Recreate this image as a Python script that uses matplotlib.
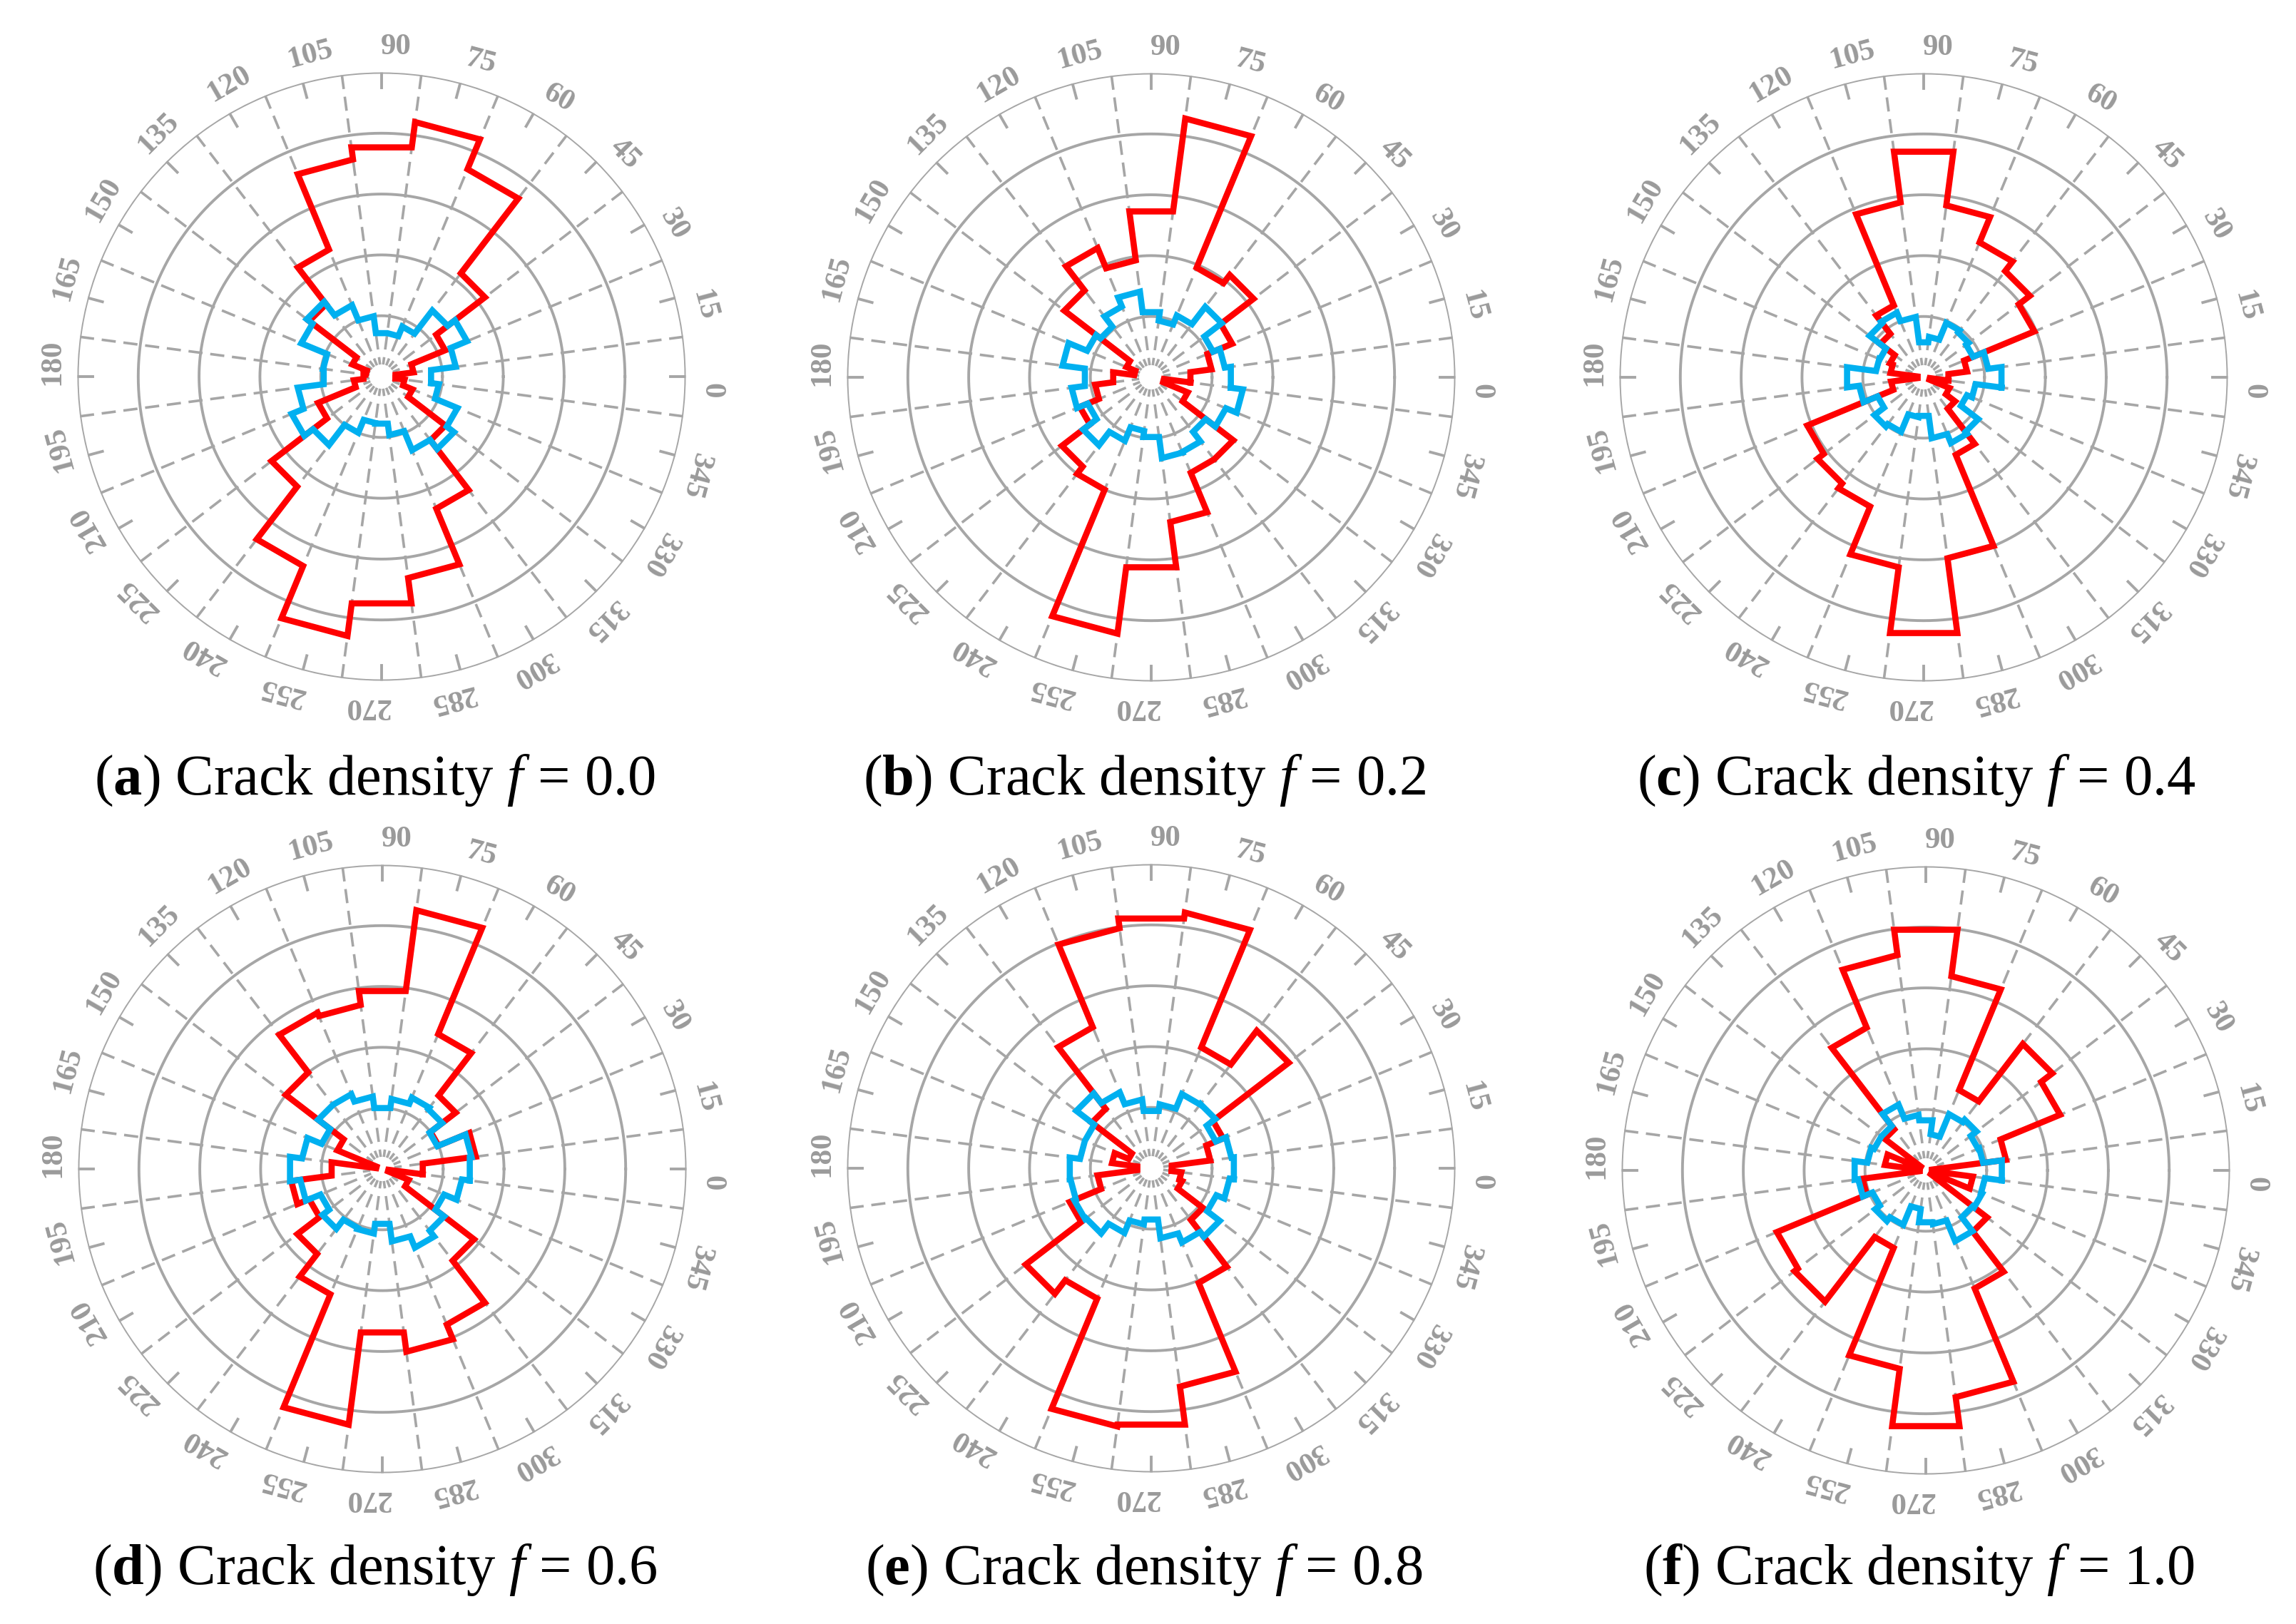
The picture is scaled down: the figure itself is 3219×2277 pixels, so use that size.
import numpy as np
import matplotlib
matplotlib.use("Agg")
import matplotlib.pyplot as plt

plt.rcParams['font.family'] = ['Liberation Serif', 'DejaVu Serif']
plt.rcParams['mathtext.fontset'] = 'custom'
plt.rcParams['mathtext.rm'] = 'Liberation Serif'
plt.rcParams['mathtext.it'] = 'Liberation Serif:italic'
plt.rcParams['mathtext.bf'] = 'Liberation Serif:bold'

# bin centres (degrees), 15 deg wide bins
bins = np.arange(0, 360, 15)
angle_labels = [str(d) for d in bins]

red_a = [0.23, 0.53, 1.13, 2.14, 3.69, 4.22, 3.80, 3.60, 2.26, 1.50, 0.52, 0.26,
         0.30, 0.46, 1.13, 2.28, 3.37, 4.30, 3.76, 3.34, 2.35, 1.32, 0.55, 0.38]
blue_a = [0.82, 1.23, 1.52, 1.37, 0.89, 0.72, 0.72, 1.00, 1.27, 1.55, 1.43, 0.97,
          0.96, 1.39, 1.60, 1.42, 1.00, 0.77, 0.78, 0.97, 1.31, 1.50, 1.35, 0.95]

red_b = [0.65, 1.00, 1.44, 2.12, 1.95, 4.29, 2.75, 1.94, 2.30, 1.80, 0.44, 0.28,
         0.63, 0.93, 1.27, 1.85, 2.00, 4.25, 3.15, 2.40, 1.70, 1.70, 0.65, 0.21]
blue_b = [1.32, 1.22, 1.10, 1.46, 1.10, 0.94, 1.08, 1.42, 1.26, 1.05, 1.14, 1.47,
          1.10, 1.32, 1.13, 1.41, 1.13, 0.89, 0.99, 1.34, 1.33, 1.13, 1.33, 1.52]

red_c = [0.41, 0.72, 1.97, 2.20, 2.40, 2.85, 3.74, 2.90, 1.28, 0.90, 0.60, 0.55,
         0.10, 0.54, 2.07, 2.20, 2.30, 3.15, 4.24, 3.00, 1.38, 0.65, 0.46, 0.10]
blue_c = [1.29, 1.07, 0.88, 0.93, 0.97, 0.67, 0.58, 1.00, 1.15, 1.12, 0.78, 0.79,
          1.27, 1.07, 0.82, 1.02, 0.97, 0.66, 0.64, 1.01, 1.17, 1.13, 0.77, 0.86]

red_d = [0.67, 1.55, 1.00, 1.52, 2.40, 4.29, 2.95, 2.72, 2.78, 2.00, 0.80, 0.10,
         0.84, 1.51, 1.30, 1.76, 2.23, 4.24, 2.71, 3.03, 2.77, 1.90, 0.47, 0.10]
blue_d = [1.45, 1.48, 0.98, 1.24, 1.27, 1.16, 1.01, 1.20, 1.33, 1.33, 1.08, 1.33,
          1.53, 1.36, 1.10, 1.24, 1.05, 1.07, 0.91, 1.20, 1.40, 1.28, 1.10, 1.32]

red_e = [0.34, 0.98, 1.28, 2.85, 2.15, 4.24, 4.14, 3.98, 2.51, 1.23, 0.40, 0.65,
         0.23, 0.89, 1.45, 2.60, 2.32, 4.28, 4.25, 3.62, 2.04, 1.07, 0.55, 0.50]
blue_e = [1.37, 1.33, 1.15, 1.33, 1.32, 1.06, 0.95, 1.14, 1.35, 1.55, 1.18, 1.18,
          1.35, 1.34, 1.37, 1.35, 1.15, 0.93, 0.85, 1.16, 1.32, 1.42, 1.16, 1.30]

red_f = [0.10, 1.33, 2.39, 2.62, 1.43, 3.22, 3.99, 3.57, 2.54, 0.85, 0.10, 0.68,
         0.10, 1.05, 2.65, 2.72, 1.38, 3.29, 4.24, 3.76, 2.10, 1.27, 0.10, 0.78]
blue_f = [1.26, 0.95, 0.93, 1.05, 1.00, 0.60, 0.83, 0.92, 1.17, 0.92, 0.92, 0.97,
          1.18, 1.12, 0.95, 1.05, 0.97, 0.64, 0.86, 0.89, 1.26, 0.97, 1.00, 0.98]

letters = ['a', 'b', 'c', 'd', 'e', 'f']
densities = ['0.0', '0.2', '0.4', '0.6', '0.8', '1.0']
reds = [red_a, red_b, red_c, red_d, red_e, red_f]
blues = [blue_a, blue_b, blue_c, blue_d, blue_e, blue_f]

# layout (pixels)
W, H = 3219, 2277
centers = [(535, 528), (1614, 529), (2697, 529),
           (536, 1639), (1614, 1638), (2700, 1641)]
cap_y = [1094, 1094, 1094, 2201, 2201, 2201]
R_PX = 426.5
RMAX = 5

GRID = '#A6A6A6'
LABEL = '#9A9A9A'
RED = '#FF0000'
BLUE = '#00B0F0'


def outline(vals):
    th, rr = [], []
    for d, v in zip(bins, vals):
        th += [np.deg2rad(d - 7.5), np.deg2rad(d + 7.5)]
        rr += [v, v]
    th.append(th[0])
    rr.append(rr[0])
    return th, rr


fig = plt.figure(figsize=(W / 100, H / 100), dpi=100)

for i in range(6):
    cx, cy = centers[i]
    ax = fig.add_axes([(cx - R_PX) / W, 1 - (cy + R_PX) / H, 2 * R_PX / W, 2 * R_PX / H],
                      projection='polar')
    ax.set_ylim(0, RMAX)
    ax.set_xticks([])
    ax.set_yticks([])
    ax.grid(False)
    ax.spines['polar'].set_visible(False)
    ax.patch.set_alpha(0)

    t = np.linspace(0, 2 * np.pi, 721)
    for r in range(1, RMAX + 1):
        ax.plot(t, np.full_like(t, r), color=GRID, lw=2.8, zorder=1)
    for d, lab in zip(bins, angle_labels):
        th = np.deg2rad(d + 7.5)
        ax.plot([th, th], [RMAX, 0.2], color=GRID, lw=2.6, ls=(0, (5.5, 3)), zorder=1)
        th0 = np.deg2rad(d)
        ax.plot([th0, th0], [RMAX - 0.25, RMAX], color=GRID, lw=2.8, zorder=1)
        ax.text(np.deg2rad(d - 2.5), 5.42, lab, rotation=d - 90, rotation_mode='anchor',
                ha='center', va='center', fontsize=31, fontweight='bold', color=LABEL)

    th, rr = outline(reds[i])
    ax.plot(th, rr, color=RED, lw=6.2, solid_joinstyle='miter', zorder=3)
    th, rr = outline(blues[i])
    ax.plot(th, rr, color=BLUE, lw=6.2, solid_joinstyle='miter', zorder=4)

    fig.text(cx / W - 0.003, 1 - cap_y[i] / H,
             r'($\mathbf{%s}$) Crack density $f$ = %s' % (letters[i], densities[i]),
             ha='center', va='center', fontsize=58, color='black')

fig.savefig('out.png', dpi=100)
